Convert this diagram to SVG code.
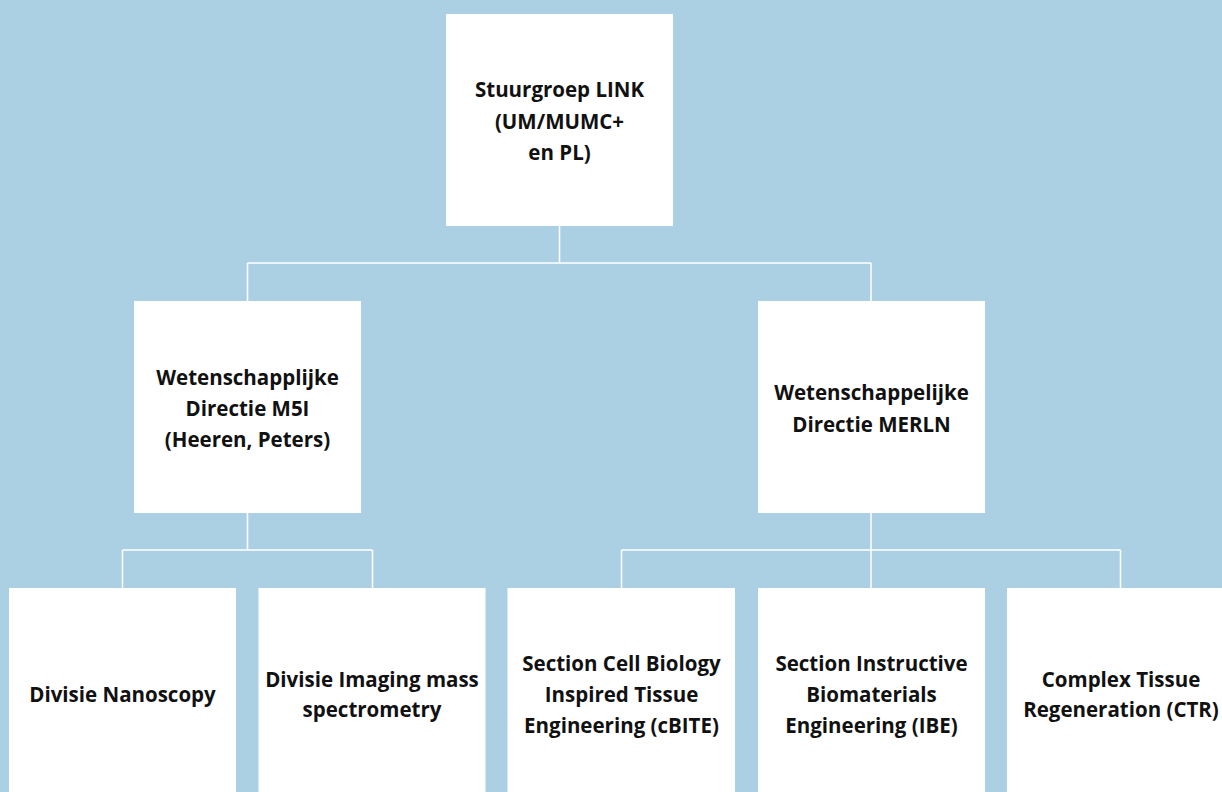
<svg xmlns="http://www.w3.org/2000/svg" width="1222" height="792" viewBox="0 0 1222 792">
<style>
.box{fill:#ffffff}
.lbl{font-family:"Open Sans","Liberation Sans",sans-serif;font-weight:700;font-size:20.5px;fill:#111111;text-anchor:middle}
.conn{stroke:#ffffff;stroke-width:1.5;fill:none}
</style>
<rect x="0" y="0" width="1222" height="792" fill="#acd0e3"/>
<g id="connectors">
<path class="conn" d="M559.5 226V263M247.5 263H871M247.5 263V301M871 263V301"/>
<path class="conn" d="M247.5 513V550M122.5 550H372.5M122.5 550V588M372.5 550V588"/>
<path class="conn" d="M871 513V550M621.5 550H1120.5M621.5 550V588M871 550V588M1120.5 550V588"/>
</g>
<g id="stuurgroep">
<rect class="box" x="446" y="14" width="227" height="212"/>
<text class="lbl" x="559.5" y="97">Stuurgroep LINK</text>
<text class="lbl" x="559.5" y="128.5">(UM/MUMC+</text>
<text class="lbl" x="559.5" y="160">en PL)</text>
</g>
<g id="m5i">
<rect class="box" x="134" y="301" width="227" height="212"/>
<text class="lbl" x="247.5" y="385">Wetenschapplijke</text>
<text class="lbl" x="247.5" y="416">Directie M5I</text>
<text class="lbl" x="247.5" y="447">(Heeren, Peters)</text>
</g>
<g id="merln">
<rect class="box" x="758" y="301" width="227" height="212"/>
<text class="lbl" x="871.5" y="400">Wetenschappelijke</text>
<text class="lbl" x="871.5" y="431.5">Directie MERLN</text>
</g>
<g id="nanoscopy">
<rect class="box" x="9" y="588" width="227" height="212"/>
<text class="lbl" x="122.5" y="702">Divisie Nanoscopy</text>
</g>
<g id="ims">
<rect class="box" x="258.5" y="588" width="227" height="212"/>
<text class="lbl" x="372" y="687">Divisie Imaging mass</text>
<text class="lbl" x="372" y="717">spectrometry</text>
</g>
<g id="cbite">
<rect class="box" x="507.5" y="588" width="227.5" height="212"/>
<text class="lbl" x="621.5" y="670.5">Section Cell Biology</text>
<text class="lbl" x="621.5" y="702">Inspired Tissue</text>
<text class="lbl" x="621.5" y="733">Engineering (cBITE)</text>
</g>
<g id="ibe">
<rect class="box" x="758" y="588" width="227" height="212"/>
<text class="lbl" x="871.5" y="670.5">Section Instructive</text>
<text class="lbl" x="871.5" y="702">Biomaterials</text>
<text class="lbl" x="871.5" y="733">Engineering (IBE)</text>
</g>
<g id="ctr">
<rect class="box" x="1007" y="588" width="227" height="212"/>
<text class="lbl" x="1121" y="687">Complex Tissue</text>
<text class="lbl" x="1121" y="717">Regeneration (CTR)</text>
</g>
</svg>
